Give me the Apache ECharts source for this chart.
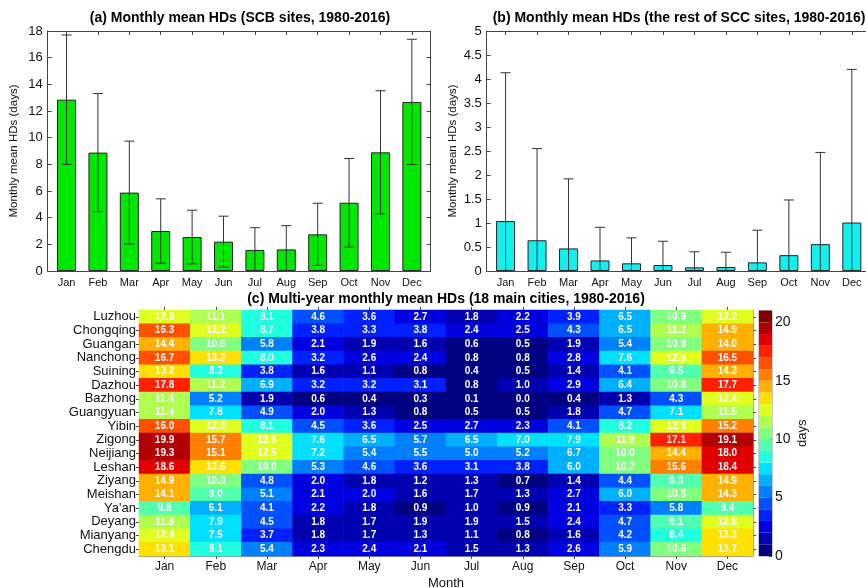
<!DOCTYPE html>
<html>
<head>
<meta charset="utf-8">
<title>Monthly mean HDs</title>
<script src="https://cdn.jsdelivr.net/npm/echarts@6.0.0/dist/echarts.min.js"></script>
<style>
html, body { margin: 0; padding: 0; background: #fff; }
#chart { width: 866px; height: 588px; }
</style>
</head>
<body>
<div id="chart"></div>
<script>
// data
const months = ['Jan', 'Feb', 'Mar', 'Apr', 'May', 'Jun', 'Jul', 'Aug', 'Sep', 'Oct', 'Nov', 'Dec'];
const monthNums = [1, 2, 3, 4, 5, 6, 7, 8, 9, 10, 11, 12];

// (a) SCB sites: mean and standard deviation
const scbMean = [12.85, 8.88, 5.88, 3.0, 2.55, 2.2, 1.58, 1.62, 2.75, 5.12, 8.9, 12.68];
const scbSd = [4.85, 4.43, 3.86, 2.41, 2.01, 1.91, 1.67, 1.78, 2.33, 3.32, 4.62, 4.7];

// (b) the rest of SCC sites
const restMean = [1.04, 0.64, 0.47, 0.22, 0.16, 0.125, 0.076, 0.083, 0.18, 0.33, 0.56, 1.01];
const restSd = [3.09, 1.91, 1.45, 0.69, 0.53, 0.495, 0.324, 0.307, 0.67, 1.15, 1.91, 3.19];

// (c) 18 main cities, top to bottom
const cities = ['Luzhou', 'Chongqing', 'Guangan', 'Nanchong', 'Suining', 'Dazhou', 'Bazhong', 'Guangyuan', 'Yibin',
    'Zigong', 'Neijiang', 'Leshan', 'Ziyang', 'Meishan', "Ya'an", 'Deyang', 'Mianyang', 'Chengdu'];
const cityHD = [
    [12.9, 11.1, 8.1, 4.6, 3.6, 2.7, 1.8, 2.2, 3.9, 6.5, 10.9, 12.2],
    [16.3, 12.2, 8.7, 3.8, 3.3, 3.8, 2.4, 2.5, 4.3, 6.5, 11.2, 14.9],
    [14.4, 10.6, 5.8, 2.1, 1.9, 1.6, 0.6, 0.5, 1.9, 5.4, 10.9, 14.0],
    [16.7, 13.2, 8.0, 3.2, 2.6, 2.4, 0.8, 0.8, 2.8, 7.6, 12.5, 16.5],
    [13.2, 8.3, 3.8, 1.6, 1.1, 0.8, 0.4, 0.5, 1.4, 4.1, 9.5, 14.3],
    [17.8, 11.2, 6.9, 3.2, 3.2, 3.1, 0.8, 1.0, 2.9, 6.4, 10.8, 17.7],
    [11.4, 5.2, 1.9, 0.6, 0.4, 0.3, 0.1, 0.0, 0.4, 1.3, 4.3, 12.4],
    [11.4, 7.8, 4.9, 2.0, 1.3, 0.8, 0.5, 0.5, 1.8, 4.7, 7.1, 11.5],
    [16.0, 12.3, 8.1, 4.5, 3.6, 2.5, 2.7, 2.3, 4.1, 8.2, 12.9, 15.2],
    [19.9, 15.7, 12.9, 7.6, 6.5, 5.7, 6.5, 7.0, 7.9, 11.9, 17.1, 19.1],
    [19.3, 15.1, 12.5, 7.2, 5.4, 5.5, 5.0, 5.2, 6.7, 10.0, 14.4, 18.0],
    [18.6, 13.6, 10.0, 5.3, 4.6, 3.6, 3.1, 3.8, 6.0, 10.2, 15.6, 18.4],
    [14.9, 10.0, 4.8, 2.0, 1.8, 1.2, 1.3, 0.7, 1.4, 4.4, 9.3, 14.9],
    [14.1, 9.0, 5.1, 2.1, 2.0, 1.6, 1.7, 1.3, 2.7, 6.0, 10.8, 14.3],
    [9.8, 6.1, 4.1, 2.2, 1.8, 0.9, 1.0, 0.9, 2.1, 3.3, 5.8, 9.4],
    [11.8, 7.9, 4.5, 1.8, 1.7, 1.9, 1.9, 1.5, 2.4, 4.7, 9.1, 12.8],
    [12.4, 7.5, 3.7, 1.8, 1.7, 1.3, 1.1, 0.8, 1.6, 4.2, 8.4, 13.3],
    [13.1, 8.1, 5.4, 2.3, 2.4, 2.1, 1.5, 1.3, 2.6, 5.9, 10.6, 13.7]
];
const colorbarTicks = [0, 5, 10, 15, 20];

// jet-like colormap, one colour per 1-day level (0..21)
const levelColors = ['#000080', '#0000b0', '#0000e0', '#0020ff', '#0050ff', '#0080ff', '#00b0ff',
    '#00e0ff', '#20ffe0', '#50ffb0', '#80ff80', '#b0ff50', '#e0ff20', '#ffe000', '#ffb000',
    '#ff8000', '#ff5000', '#ff2000', '#e00000', '#b00000', '#800000'];

const axisColor = '#444';
const boxColor = '#999';
const textColor = '#111';

function errorBar(params, api) {
    let x = api.value(0);
    let top = api.coord([x, api.value(2)]);
    let bottom = api.coord([x, api.value(1)]);
    let half = 5;
    let style = { stroke: '#333', lineWidth: 1 };
    return {
        type: 'group',
        children: [
            { type: 'line', shape: { x1: top[0], y1: top[1], x2: bottom[0], y2: bottom[1] }, style: style },
            { type: 'line', shape: { x1: top[0] - half, y1: top[1], x2: top[0] + half, y2: top[1] }, style: style },
            { type: 'line', shape: { x1: bottom[0] - half, y1: bottom[1], x2: bottom[0] + half, y2: bottom[1] }, style: style }
        ]
    };
}

function monthAxis(grid, pos) {
    return {
        type: 'value', gridIndex: grid, min: 0.4, max: 12.6, position: pos,
        axisLine: { show: true, onZero: false, lineStyle: { color: axisColor } },
        axisTick: { show: true, inside: true, length: 4, customValues: monthNums, lineStyle: { color: axisColor } },
        axisLabel: {
            show: pos === 'bottom', customValues: monthNums, formatter: v => months[v - 1],
            fontSize: 11, margin: 6, color: textColor
        },
        splitLine: { show: false }
    };
}

function valueAxis(grid, pos, max, interval, name) {
    return {
        type: 'value', gridIndex: grid, min: 0, max: max, interval: interval, position: pos,
        name: name, nameLocation: 'middle', nameGap: 28,
        nameTextStyle: { fontSize: 11.5, color: textColor },
        axisLine: { show: true, onZero: false, lineStyle: { color: axisColor } },
        axisTick: { show: true, inside: true, length: 4, lineStyle: { color: axisColor } },
        axisLabel: { show: pos === 'left', fontSize: 13, margin: 5, color: textColor },
        splitLine: { show: false }
    };
}

function heatAxisX(pos) {
    return {
        type: 'category', gridIndex: 2, data: months, position: pos,
        name: pos === 'bottom' ? 'Month' : '', nameLocation: 'middle', nameGap: 21,
        nameTextStyle: { fontSize: 13, color: textColor },
        axisLine: { show: true, lineStyle: { color: boxColor } },
        axisTick: { show: true, interval: 0, alignWithLabel: true, length: 3, lineStyle: { color: axisColor } },
        axisLabel: { show: pos === 'bottom', interval: 0, fontSize: 12, margin: 5, color: textColor },
        splitLine: { show: false }
    };
}

function heatAxisY(pos) {
    return {
        type: 'category', gridIndex: 2, data: cities, inverse: true, position: pos,
        axisLine: { show: true, lineStyle: { color: boxColor } },
        axisTick: { show: true, interval: 0, alignWithLabel: true, length: 3, lineStyle: { color: axisColor } },
        axisLabel: { show: pos === 'left', interval: 0, fontSize: 13, margin: 3, color: textColor },
        splitLine: { show: false }
    };
}

let heatData = [];
cityHD.forEach((row, r) => row.forEach((v, c) => heatData.push([c, r, v])));

let myChart = echarts.init(document.getElementById('chart'));

let option = {
    animation: false,
    backgroundColor: '#fff',
    textStyle: { fontFamily: 'Arial, "Liberation Sans", sans-serif' },
    title: [
        { text: '(a) Monthly mean HDs (SCB sites, 1980-2016)', left: 240, top: 11, textAlign: 'center', padding: 0,
          textStyle: { fontSize: 14, fontWeight: 'bold', color: '#000' } },
        { text: '(b) Monthly mean HDs (the rest of SCC sites, 1980-2016)', left: 679, top: 11, textAlign: 'center', padding: 0,
          textStyle: { fontSize: 14, fontWeight: 'bold', color: '#000' } },
        { text: '(c) Multi-year monthly mean HDs (18 main cities, 1980-2016)', left: 446, top: 292, textAlign: 'center', padding: 0,
          textStyle: { fontSize: 14, fontWeight: 'bold', color: '#000' } }
    ],
    grid: [
        { left: 47.7, top: 31, width: 383, height: 240, outerBoundsMode: 'none' },
        { left: 486.7, top: 31, width: 384, height: 240, outerBoundsMode: 'none' },
        { left: 139, top: 310, width: 614, height: 246, outerBoundsMode: 'none' },
        { left: 759, top: 310.7, width: 13, height: 245.3, outerBoundsMode: 'none', show: true, borderColor: boxColor, borderWidth: 1 }
    ],
    xAxis: [
        monthAxis(0, 'bottom'),
        monthAxis(0, 'top'),
        monthAxis(1, 'bottom'),
        monthAxis(1, 'top'),
        heatAxisX('bottom'),
        heatAxisX('top'),
        { type: 'category', gridIndex: 3, data: ['days'], show: false }
    ],
    yAxis: [
        valueAxis(0, 'left', 18, 2, 'Monthly mean HDs (days)'),
        valueAxis(0, 'right', 18, 2, ''),
        valueAxis(1, 'left', 5, 0.5, 'Monthly mean HDs (days)'),
        valueAxis(1, 'right', 5, 0.5, ''),
        heatAxisY('left'),
        heatAxisY('right'),
        {
            type: 'value', gridIndex: 3, min: 0, max: 21, position: 'right',
            name: 'days', nameLocation: 'middle', nameRotate: 90, nameGap: 24,
            nameTextStyle: { fontSize: 13, color: textColor },
            axisLine: { show: false },
            axisTick: { show: true, inside: true, length: 3, customValues: colorbarTicks, lineStyle: { color: axisColor } },
            axisLabel: { customValues: colorbarTicks, fontSize: 14, margin: 3, color: textColor },
            splitLine: { show: false }
        }
    ],
    visualMap: {
        type: 'piecewise', show: false, seriesIndex: 4, dimension: 2,
        pieces: levelColors.map((c, i) => ({ gte: i, lt: i + 1, color: c }))
    },
    series: [
        {
            type: 'bar', xAxisIndex: 0, yAxisIndex: 0, barWidth: 19,
            data: monthNums.map((m, i) => [m, scbMean[i]]),
            itemStyle: { color: '#00e800', borderColor: '#222', borderWidth: 1 }
        },
        {
            type: 'custom', xAxisIndex: 0, yAxisIndex: 0, clip: true, z: 5,
            renderItem: errorBar,
            encode: { x: 0, y: [1, 2] },
            data: monthNums.map((m, i) => [m, scbMean[i] - scbSd[i], scbMean[i] + scbSd[i]])
        },
        {
            type: 'bar', xAxisIndex: 2, yAxisIndex: 2, barWidth: 19,
            data: monthNums.map((m, i) => [m, restMean[i]]),
            itemStyle: { color: '#10f0f0', borderColor: '#222', borderWidth: 1 }
        },
        {
            type: 'custom', xAxisIndex: 2, yAxisIndex: 2, clip: true, z: 5,
            renderItem: errorBar,
            encode: { x: 0, y: [1, 2] },
            data: monthNums.map((m, i) => [m, restMean[i] - restSd[i], restMean[i] + restSd[i]])
        },
        {
            type: 'heatmap', xAxisIndex: 4, yAxisIndex: 4,
            data: heatData,
            label: {
                show: true, color: '#fff', fontWeight: 'bold', fontSize: 10,
                formatter: p => p.value[2].toFixed(1)
            },
            emphasis: { disabled: true }
        },
        {
            type: 'custom', xAxisIndex: 6, yAxisIndex: 6,
            encode: { x: 0, y: 1 },
            data: levelColors.map((c, i) => [0, i]),
            renderItem: (params, api) => {
                let v = api.value(1);
                let p0 = api.coord([0, v]);
                let p1 = api.coord([0, v + 1]);
                let w = api.size([1, 0])[0];
                return {
                    type: 'rect',
                    shape: { x: p0[0] - w / 2, y: p1[1], width: w, height: p0[1] - p1[1] },
                    style: { fill: levelColors[v] }
                };
            }
        }
    ]
};

myChart.setOption(option);
</script>
</body>
</html>
